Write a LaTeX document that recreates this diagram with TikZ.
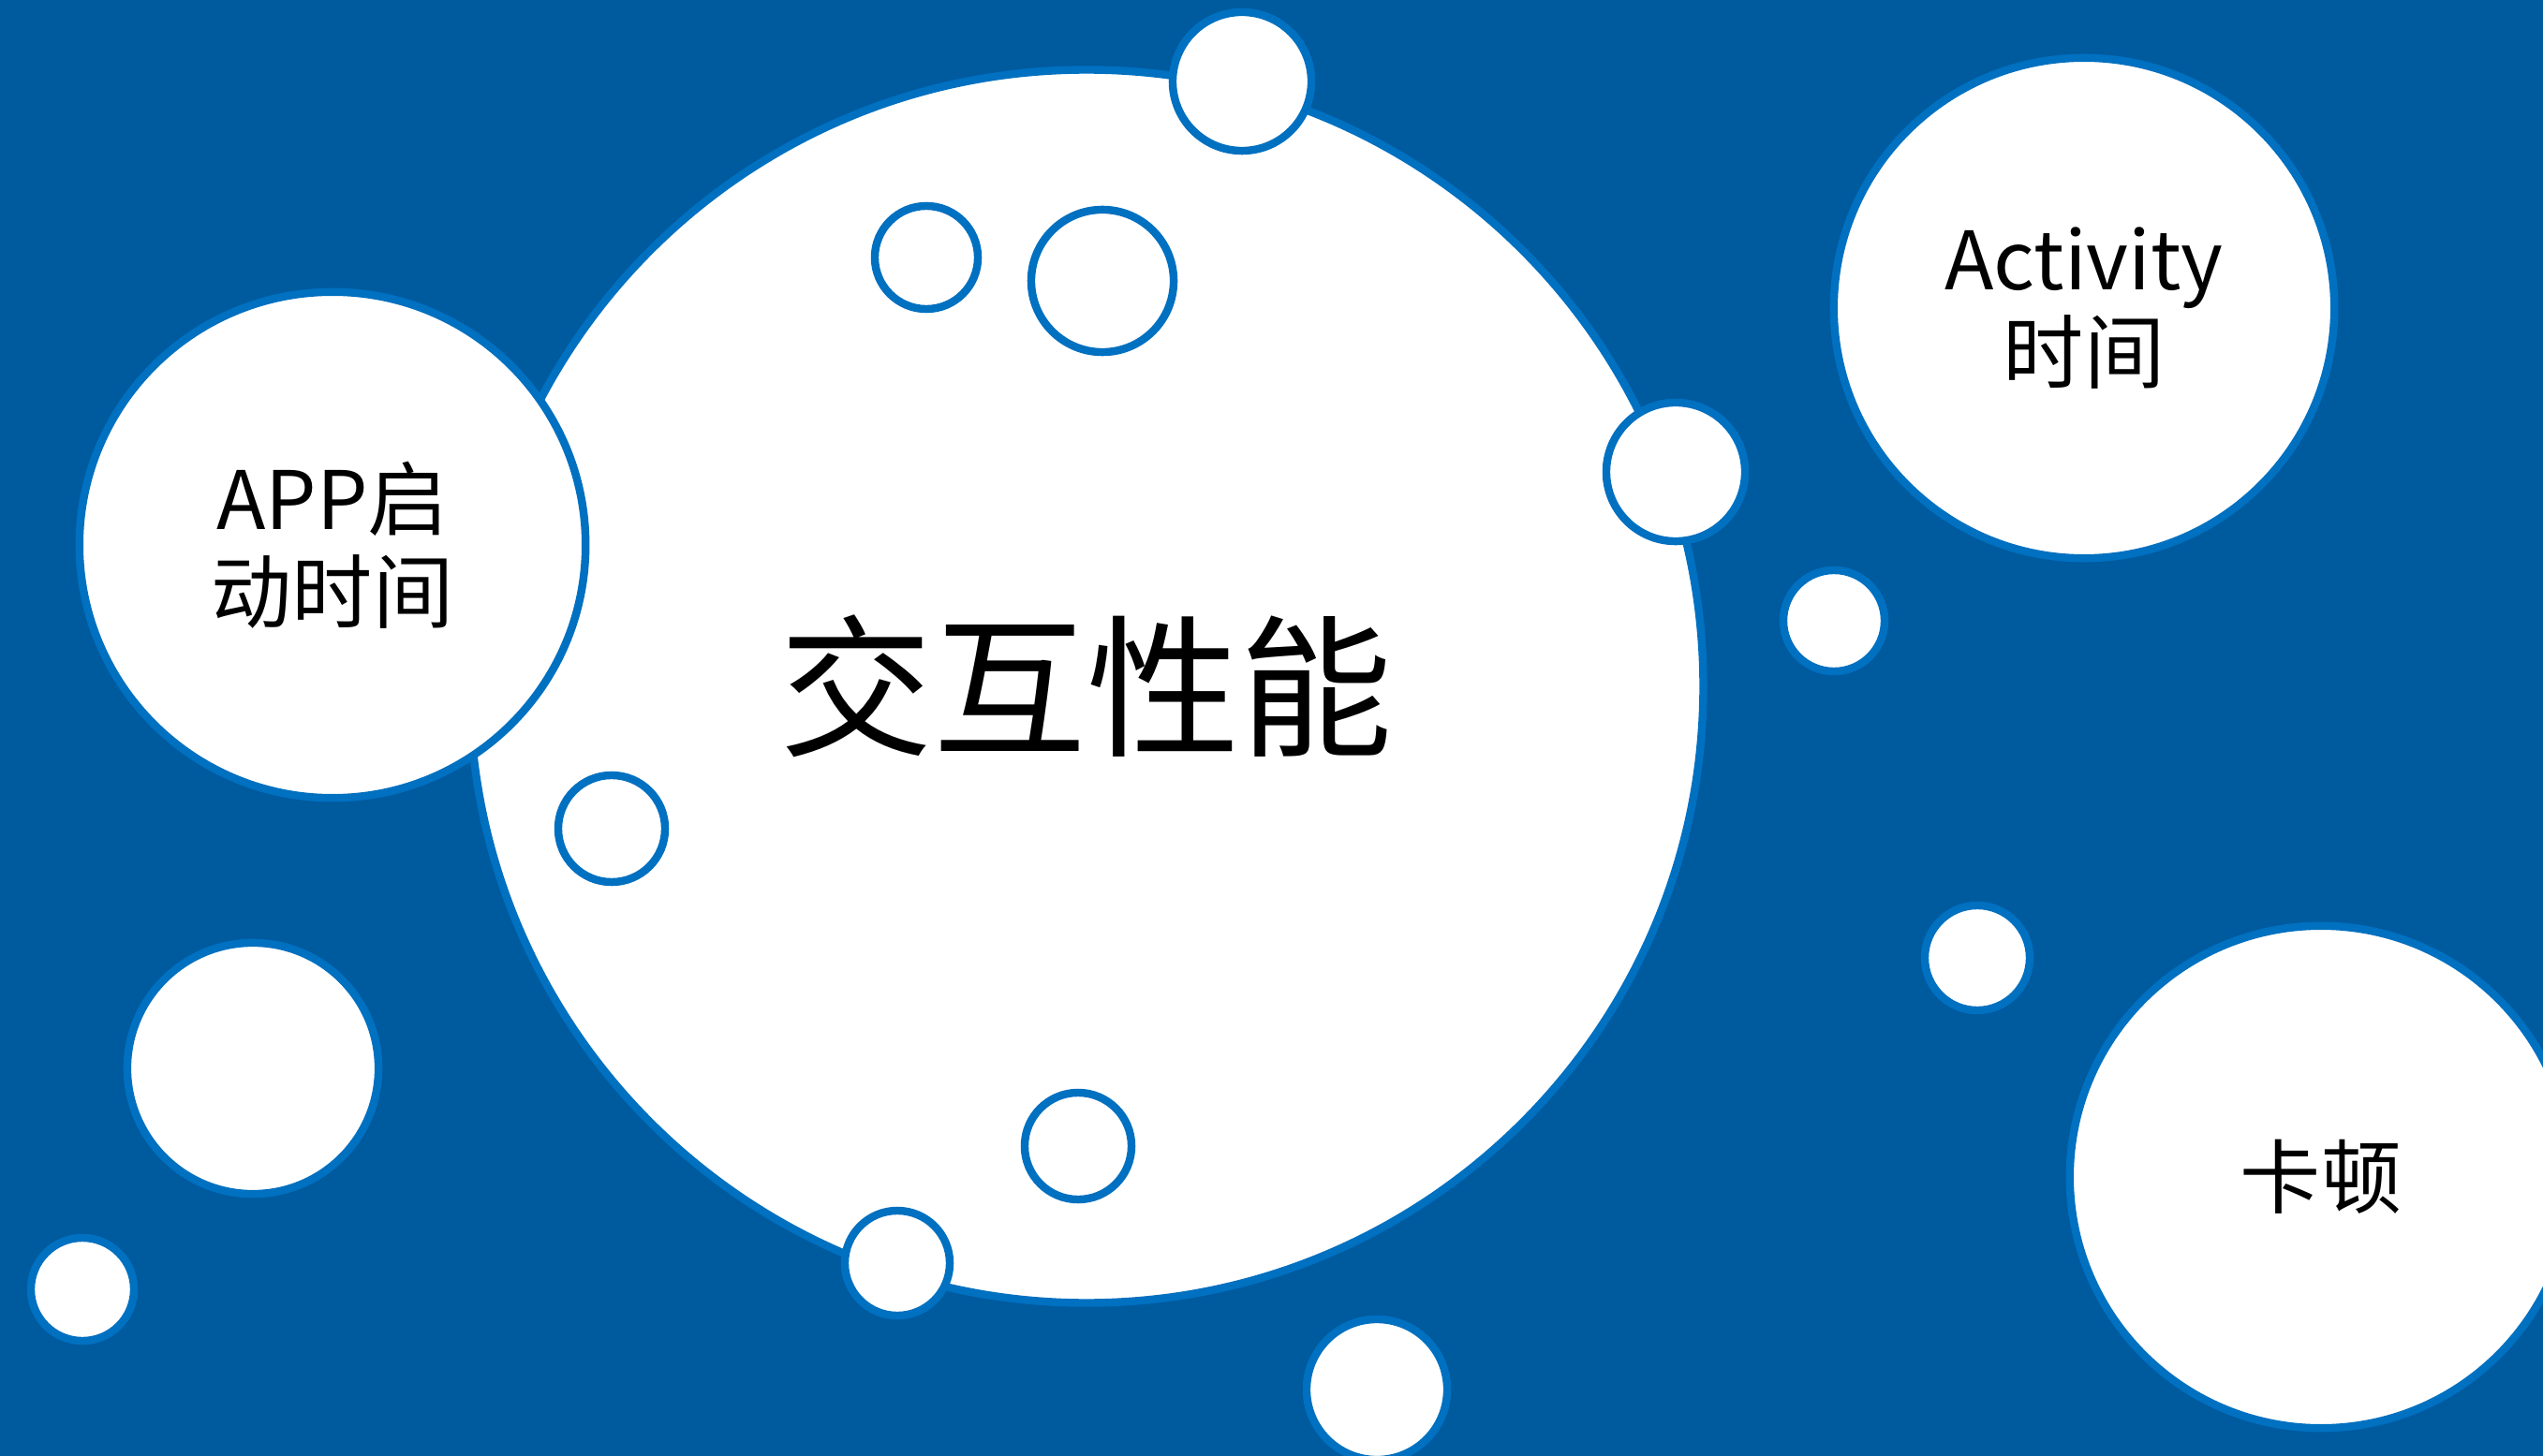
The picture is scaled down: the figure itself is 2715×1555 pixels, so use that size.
\documentclass[tikz,border=0pt]{standalone}
\usepackage{fontspec}
\setmainfont{Noto Sans CJK SC}
\definecolor{bgblue}{HTML}{005A9E}
\definecolor{rimblue}{HTML}{0070C0}
\begin{document}
\begin{tikzpicture}[x=0.01cm,y=-0.01cm,
  bub/.style={circle,draw=rimblue,fill=white,line width=2.4pt,inner sep=0pt,minimum size=#1*0.02cm,align=center,text=black},
  lbl/.style={font=\fontsize{24.5pt}{28pt}\selectfont}]
\useasboundingbox (0,0) rectangle (2715,1555);
\fill[bgblue] (0,0) rectangle (2715,1555);
\node[bub=658] (main) at (1160,733) {};
\node[font=\fontsize{46.5pt}{54pt}\selectfont] (maintxt) at (1160,733) {交互性能};
\node[bub=270,lbl] (app) at (355,582) {APP启\\动时间};
\node[bub=267,lbl] (act) at (2225,329) {Activity\\时间};
\node[bub=268,lbl] (kd) at (2478,1257) {卡顿};
\node[bub=74] (s1) at (1326,87) {};
\node[bub=55] (s2) at (989,275) {};
\node[bub=76] (s3) at (1177,300) {};
\node[bub=74] (s4) at (1789,504) {};
\node[bub=54] (s5) at (1958,663) {};
\node[bub=57] (s6) at (653,885) {};
\node[bub=134] (s7) at (270,1141) {};
\node[bub=55] (s8) at (88,1377) {};
\node[bub=56] (s9) at (958,1349) {};
\node[bub=57] (s10) at (1151,1224) {};
\node[bub=75] (s11) at (1470,1484) {};
\node[bub=56] (s12) at (2111,1023) {};
\end{tikzpicture}
\end{document}
